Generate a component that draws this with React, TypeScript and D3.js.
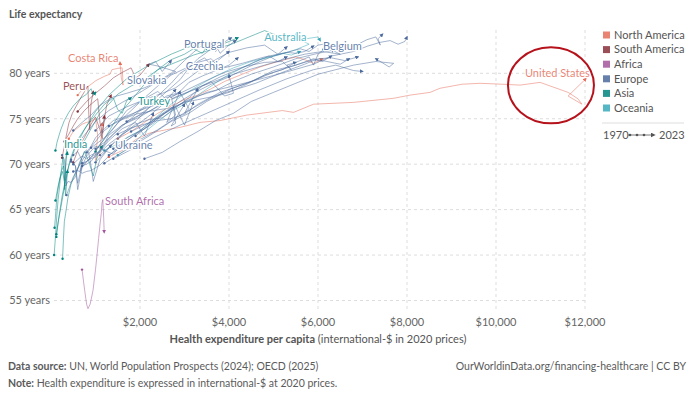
import * as d3 from "d3";

// chart constants
const W = 700;
const H = 394;
const FONT = "Lato, 'Noto Sans', sans-serif";

const REGIONS = ["North America", "South America", "Africa", "Europe", "Asia", "Oceania"];
const REGION_COLORS = ["#E56E5A", "#883039", "#A2559C", "#4C6A9C", "#00847E", "#38AABA"];

const X_TICKS = [2000, 4000, 6000, 8000, 10000, 12000];
const Y_TICKS = [55, 60, 65, 70, 75, 80];

// [health expenditure per capita, life expectancy]
type Pt = [number, number];

const switzerland: Pt[] = [[1900,73.1],[2100,73.9],[2400,75.1],[2700,76.0],[3000,76.9],[3300,77.5],[3700,78.1],[4100,79.1],[4500,79.9],[5000,80.7],[5500,81.6],[6000,82.2],[6500,82.7],[6900,83.2],[7100,83.7],[7300,84.0],[7400,83.1],[7350,83.8],[7450,84.3]];
const norway: Pt[] = [[1300,74.2],[1600,74.9],[1900,75.5],[2300,75.9],[2700,76.2],[3100,77.0],[3500,77.9],[4100,78.6],[4800,79.5],[5400,80.3],[5900,81.0],[6300,81.9],[6800,82.4],[7120,83.0],[7390,83.4],[7620,83.6],[7800,83.2],[7950,83.5],[8000,84.0]];
const germany: Pt[] = [[2100,70.6],[2500,71.3],[2900,72.5],[3300,73.6],[3700,74.8],[4100,75.6],[4500,76.9],[5000,77.9],[5500,78.9],[6000,79.9],[6400,80.4],[6800,80.9],[7300,81.3],[7700,81.1],[7600,80.7],[7300,81.6]];
const netherlands: Pt[] = [[1800,73.6],[2100,74.3],[2400,75.1],[2700,76.1],[3000,76.8],[3300,77.1],[3600,77.4],[4000,78.0],[4600,78.9],[5200,80.1],[5700,81.0],[6000,81.6],[6300,81.7],[6600,81.4],[6900,81.8]];
const austria: Pt[] = [[1200,70.1],[1500,71.0],[1900,72.2],[2300,73.4],[2700,74.7],[3100,75.6],[3500,76.9],[4000,78.2],[4500,79.1],[5000,80.3],[5500,80.9],[5900,81.6],[6200,81.3],[6500,81.0],[6700,81.6]];
const belgium: Pt[] = [[1300,71.0],[1600,71.9],[2000,72.7],[2400,73.8],[2800,75.1],[3200,76.2],[3600,77.3],[4000,77.9],[4400,78.8],[4800,79.8],[5200,80.4],[5500,81.2],[5800,81.8],[5900,80.9],[6000,82.1],[6150,82.7]];
const france: Pt[] = [[1400,71.7],[1700,72.6],[2000,73.6],[2300,74.5],[2600,75.8],[2900,76.9],[3200,77.8],[3600,78.8],[4000,79.6],[4400,80.6],[4700,81.3],[5000,81.9],[5300,82.3],[5500,82.2],[5700,82.4],[5900,83.0]];
const sweden: Pt[] = [[1700,74.7],[1900,75.2],[2200,75.8],[2500,76.6],[2700,77.3],[2900,78.0],[3100,79.0],[3400,79.7],[3800,80.5],[4300,81.1],[4800,81.8],[5300,82.3],[5600,82.7],[5800,82.4],[6000,83.1],[6250,83.3]];
const denmark: Pt[] = [[1500,73.3],[1800,74.0],[2100,74.4],[2400,74.8],[2700,75.0],[3000,75.5],[3300,76.6],[3800,77.9],[4400,78.9],[5000,80.1],[5500,80.9],[5900,81.5],[6100,81.3],[6300,81.9]];
const unitedKingdom: Pt[] = [[1000,71.7],[1200,72.4],[1400,73.3],[1700,74.6],[2000,75.9],[2400,77.0],[2900,77.8],[3400,79.0],[3900,80.1],[4400,80.8],[4800,81.2],[5200,81.3],[5400,80.4],[5300,80.9],[5500,81.2]];
const italy: Pt[] = [[1100,71.0],[1400,72.3],[1700,73.8],[2000,75.2],[2300,76.7],[2600,78.0],[2900,79.3],[3100,80.6],[3300,81.6],[3500,82.3],[3700,83.1],[3800,82.2],[3950,82.9],[4150,83.6]];
const spain: Pt[] = [[600,72.3],[800,73.5],[1000,74.7],[1300,75.9],[1600,76.8],[1900,77.6],[2300,78.8],[2700,80.0],[3000,81.4],[3200,82.3],[3400,83.1],[3600,83.5],[3700,82.4],[3850,83.3],[4050,83.9]];
const portugal: Pt[] = [[350,66.6],[500,68.6],[700,70.4],[950,72.2],[1200,73.7],[1500,74.8],[1800,75.4],[2100,76.3],[2400,77.5],[2700,78.9],[2900,80.0],[3100,80.6],[3300,81.3],[3450,81.7],[3600,80.9],[3800,81.6],[4000,82.4]];
const greece: Pt[] = [[500,73.7],[700,74.6],[900,75.4],[1100,76.5],[1400,77.4],[1700,77.8],[2100,78.4],[2500,79.3],[2800,80.2],[2400,80.8],[2200,81.0],[2350,81.3],[2500,80.2],[2700,81.4]];
const czechia: Pt[] = [[700,69.8],[800,70.0],[900,70.3],[1000,71.0],[1100,71.5],[1300,72.8],[1600,74.3],[2000,75.2],[2400,76.4],[2800,77.4],[3200,78.2],[3600,79.1],[3900,77.5],[4100,77.8],[4000,79.8]];
const slovakia: Pt[] = [[700,70.1],[800,70.3],[900,70.8],[1100,71.3],[1300,72.2],[1600,73.3],[1900,74.2],[2200,75.3],[2500,76.5],[2700,77.4],[2800,75.4],[2600,74.6],[2900,78.0]];
const poland: Pt[] = [[500,70.0],[600,70.5],[700,70.9],[800,70.6],[900,71.0],[1100,71.4],[1300,73.2],[1600,74.3],[1900,75.1],[2200,76.2],[2600,77.5],[2900,77.9],[3100,76.1],[3000,75.6],[3300,78.3]];
const hungary: Pt[] = [[500,69.2],[600,69.3],[700,69.0],[800,69.2],[900,69.3],[1100,69.9],[1400,71.4],[1700,72.6],[2000,73.7],[2300,74.9],[2600,75.9],[2750,76.3],[2800,74.5],[2700,74.2],[3000,76.6]];
const ukraine: Pt[] = [[250,71.0],[300,70.5],[320,69.3],[350,67.8],[330,67.6],[380,68.1],[450,68.0],[550,68.6],[650,70.3],[750,71.3],[800,71.6],[850,71.2],[900,69.8],[950,68.1],[1100,70.5],[1350,72.1]];
const lithuania: Pt[] = [[500,71.0],[600,71.4],[700,70.4],[650,69.2],[800,70.9],[1000,72.0],[1200,71.5],[1400,71.1],[1700,72.9],[2100,73.9],[2500,75.5],[2800,76.3],[3000,74.3],[3200,76.8]];
const estonia: Pt[] = [[450,70.5],[550,69.8],[600,67.9],[700,69.9],[900,70.7],[1100,72.2],[1400,73.9],[1700,75.9],[2100,77.2],[2400,78.0],[2600,77.1],[2800,78.2]];
const latvia: Pt[] = [[450,70.3],[550,69.8],[600,67.2],[700,69.7],[850,70.5],[1000,70.8],[1300,72.6],[1600,73.9],[1900,74.6],[2100,73.1],[2300,75.6]];
const ireland: Pt[] = [[800,71.3],[900,72.0],[1000,72.9],[1200,73.9],[1400,74.8],[1700,75.3],[2100,76.1],[2700,77.1],[3400,78.6],[4100,79.9],[4800,80.9],[5300,81.6],[5700,82.1],[6100,82.4],[6500,82.1],[6300,82.6]];
const finland: Pt[] = [[1000,70.2],[1300,71.8],[1600,73.2],[1900,74.4],[2200,74.9],[2500,75.1],[2800,76.2],[3100,77.3],[3400,78.6],[3800,79.6],[4200,80.4],[4600,81.3],[4900,81.9],[5100,81.3],[5300,81.8]];
const luxembourg: Pt[] = [[1400,70.6],[1800,71.6],[2300,72.9],[2900,74.3],[3500,75.6],[4100,76.9],[4700,78.2],[5300,79.4],[5900,80.4],[6400,80.9],[6800,80.3],[7000,80.2]];
const iceland: Pt[] = [[1000,73.7],[1300,75.3],[1700,76.3],[2100,77.1],[2500,77.8],[2800,78.4],[3100,79.5],[3400,80.6],[3700,81.5],[4000,82.3],[4400,82.8],[4800,83.1],[5100,82.1],[5300,82.9]];
const slovenia: Pt[] = [[900,71.8],[1200,72.9],[1500,74.5],[1800,75.9],[2100,77.3],[2400,78.6],[2700,79.8],[3000,80.5],[3300,81.2],[3600,81.6],[3800,80.5],[4000,80.9],[4200,81.7]];

const japan: Pt[] = [[700,72.1],[900,73.9],[1100,75.6],[1300,76.6],[1500,77.7],[1800,78.6],[2100,79.3],[2400,80.4],[2800,81.2],[3200,82.0],[3600,82.6],[4000,83.1],[4300,83.7],[4600,84.3],[4800,84.7],[5000,84.3],[5300,84.0],[5550,84.2]];
const southKorea: Pt[] = [[120,62.3],[160,63.6],[220,65.2],[300,67.4],[400,69.8],[550,71.9],[750,73.8],[1000,75.8],[1300,77.6],[1700,79.4],[2200,80.9],[2700,82.1],[3100,82.9],[3500,83.4],[3800,83.1],[4200,83.9]];
const israel: Pt[] = [[1000,71.4],[1200,72.8],[1400,74.4],[1600,75.9],[1800,77.0],[2000,78.2],[2200,79.4],[2400,80.4],[2700,81.5],[3000,82.1],[3200,82.7],[3400,82.2],[3500,82.9]];
const turkey: Pt[] = [[120,62.0],[180,64.3],[250,66.5],[350,68.9],[450,70.8],[600,72.7],[800,74.2],[1000,75.4],[1200,76.6],[1400,77.3],[1500,76.0],[1600,75.6],[1700,77.0],[1800,77.3]];
const china: Pt[] = [[100,71.5],[130,72.3],[170,73.0],[220,73.8],[300,74.8],[400,75.7],[500,76.4],[650,77.2],[800,77.7],[900,78.3],[950,77.6],[1000,77.9]];
const india: Pt[] = [[70,60.0],[90,61.3],[110,62.8],[130,64.3],[160,66.1],[190,67.4],[220,68.9],[250,70.0],[270,70.8],[290,69.6],[310,67.2],[330,70.2],[360,72.0]];
const indonesia: Pt[] = [[80,63.0],[100,64.2],[120,65.6],[140,66.7],[170,67.6],[200,68.5],[240,69.3],[280,69.8],[310,68.2],[340,70.6],[370,71.3]];
const kazakhstan: Pt[] = [[260,59.6],[280,61.8],[300,63.7],[330,64.6],[380,66.3],[450,67.8],[550,69.0],[650,70.1],[750,71.4],[850,70.3],[950,68.7],[1050,71.2],[1150,72.0]];
const philippines: Pt[] = [[100,66.0],[130,66.8],[160,67.6],[200,68.4],[260,69.2],[300,68.1],[330,66.5],[370,69.3]];

const peru: Pt[] = [[250,70.7],[300,72.0],[350,73.3],[400,74.5],[480,75.6],[580,76.5],[680,77.4],[780,78.2],[830,78.6],[850,75.5],[870,73.8],[900,76.7],[950,78.0]];
const chile: Pt[] = [[600,75.8],[800,76.9],[1000,77.8],[1200,78.6],[1400,79.5],[1600,80.1],[1800,80.6],[1900,79.5],[2000,79.8],[2200,81.0]];
const colombia: Pt[] = [[300,72.5],[400,73.3],[500,74.2],[600,75.0],[750,75.9],[900,76.6],[1050,77.2],[1100,74.6],[1150,73.4],[1250,76.5],[1350,77.6]];
const brazil: Pt[] = [[500,70.2],[600,71.5],[700,72.5],[800,73.4],[900,74.4],[1000,75.2],[1100,73.8],[1150,72.8],[1200,75.3]];

const unitedStates: Pt[] = [[1300,70.8],[1600,71.5],[1900,72.7],[2200,73.4],[2600,73.8],[2900,74.05],[3350,74.6],[3800,74.8],[4400,75.4],[5200,75.9],[5450,75.7],[5900,76.6],[6800,76.8],[7700,77.25],[8070,77.6],[8520,77.9],[8740,78.35],[9240,78.8],[9640,78.9],[10130,78.8],[10540,78.7],[10990,79.0],[11620,77.9],[11840,77.2],[11930,76.6],[11620,77.5],[12020,79.4]];
const canada: Pt[] = [[1500,72.8],[1800,73.6],[2100,74.6],[2400,75.6],[2700,76.4],[3000,77.1],[3300,77.6],[3600,78.3],[3900,79.1],[4300,79.9],[4700,80.7],[5100,81.3],[5500,81.8],[5700,81.5],[5900,81.1],[6100,81.6]];
const costaRica: Pt[] = [[600,77.6],[700,78.2],[876,78.7],[1011,79.2],[1213,79.7],[1326,79.9],[1370,80.4],[1505,80.55],[1600,80.6],[1620,78.7],[1580,79.5],[1550,81.2]];
const mexico: Pt[] = [[400,72.8],[500,73.6],[600,74.0],[700,74.4],[800,74.6],[900,74.7],[1000,75.0],[1050,73.2],[1000,70.4],[1100,71.2],[1150,74.5]];

const southAfrica: Pt[] = [[697,58.4],[760,56.0],[800,54.6],[831,54.1],[880,54.6],[944,56.1],[1000,58.4],[1034,60.0],[1070,61.8],[1101,63.3],[1130,64.6],[1146,65.7],[1165,66.1],[1185,64.0],[1195,62.5]];

const australia: Pt[] = [[1500,71.0],[1800,72.0],[2100,73.5],[2400,74.7],[2700,75.8],[3000,76.6],[3300,77.6],[3600,78.6],[3900,79.6],[4300,80.6],[4700,81.5],[5100,82.0],[5500,82.6],[5800,83.2],[5600,83.7],[6000,84.0],[6050,83.6]];
const newZealand: Pt[] = [[1200,71.5],[1400,72.0],[1700,72.9],[2000,73.7],[2300,74.9],[2600,76.2],[2900,77.4],[3300,78.6],[3700,79.7],[4100,80.6],[4500,81.3],[4900,81.8],[5200,82.2],[5400,82.0],[5600,82.4]];

// region index per series, drawing order back to front
const SERIES: { name: string; region: number; data: Pt[] }[] = [
  { name: "United States", region: 0, data: unitedStates },
  { name: "Canada", region: 0, data: canada },
  { name: "Mexico", region: 0, data: mexico },
  { name: "Costa Rica", region: 0, data: costaRica },
  { name: "Peru", region: 1, data: peru },
  { name: "Chile", region: 1, data: chile },
  { name: "Colombia", region: 1, data: colombia },
  { name: "Brazil", region: 1, data: brazil },
  { name: "South Africa", region: 2, data: southAfrica },
  { name: "Japan", region: 4, data: japan },
  { name: "South Korea", region: 4, data: southKorea },
  { name: "Israel", region: 4, data: israel },
  { name: "Turkey", region: 4, data: turkey },
  { name: "China", region: 4, data: china },
  { name: "India", region: 4, data: india },
  { name: "Indonesia", region: 4, data: indonesia },
  { name: "Kazakhstan", region: 4, data: kazakhstan },
  { name: "Philippines", region: 4, data: philippines },
  { name: "Australia", region: 5, data: australia },
  { name: "New Zealand", region: 5, data: newZealand },
  { name: "Switzerland", region: 3, data: switzerland },
  { name: "Norway", region: 3, data: norway },
  { name: "Germany", region: 3, data: germany },
  { name: "Netherlands", region: 3, data: netherlands },
  { name: "Austria", region: 3, data: austria },
  { name: "Belgium", region: 3, data: belgium },
  { name: "France", region: 3, data: france },
  { name: "Sweden", region: 3, data: sweden },
  { name: "Denmark", region: 3, data: denmark },
  { name: "United Kingdom", region: 3, data: unitedKingdom },
  { name: "Italy", region: 3, data: italy },
  { name: "Spain", region: 3, data: spain },
  { name: "Portugal", region: 3, data: portugal },
  { name: "Greece", region: 3, data: greece },
  { name: "Czechia", region: 3, data: czechia },
  { name: "Slovakia", region: 3, data: slovakia },
  { name: "Poland", region: 3, data: poland },
  { name: "Hungary", region: 3, data: hungary },
  { name: "Ukraine", region: 3, data: ukraine },
  { name: "Lithuania", region: 3, data: lithuania },
  { name: "Estonia", region: 3, data: estonia },
  { name: "Latvia", region: 3, data: latvia },
  { name: "Ireland", region: 3, data: ireland },
  { name: "Finland", region: 3, data: finland },
  { name: "Luxembourg", region: 3, data: luxembourg },
  { name: "Iceland", region: 3, data: iceland },
  { name: "Slovenia", region: 3, data: slovenia },
];

// label anchors (left edge of text) in data units
const LABELS: { name: string; region: number; at: Pt }[] = [
  { name: "Costa Rica", region: 0, at: [380, 81.65] },
  { name: "Peru", region: 1, at: [270, 78.57] },
  { name: "Slovakia", region: 3, at: [1710, 79.2] },
  { name: "Czechia", region: 3, at: [3030, 80.8] },
  { name: "Portugal", region: 3, at: [2990, 83.2] },
  { name: "Australia", region: 5, at: [4790, 83.97] },
  { name: "Belgium", region: 3, at: [6110, 82.97] },
  { name: "Turkey", region: 4, at: [1955, 76.9] },
  { name: "India", region: 4, at: [290, 72.2] },
  { name: "Ukraine", region: 3, at: [1440, 72.07] },
  { name: "South Africa", region: 2, at: [1215, 65.9] },
  { name: "United States", region: 0, at: [10650, 80.0] },
];

// red highlight ring centre (data units)
const HIGHLIGHT: Pt = [11235, 78.68];

export default function App() {
  const x = d3.scaleLinear().domain([0, 12000]).range([51, 585]);
  const y = d3.scaleLinear().domain([55, 80]).range([300.5, 73.3]);
  const line = d3.line<Pt>().x((d) => x(d[0])).y((d) => y(d[1]));
  const fmt = d3.format("$,");

  const legendY = d3.scalePoint<string>().domain(REGIONS).range([35, 108]);

  return (
    <svg width={W} height={H} style={{ position: "absolute", left: 0, top: 0, background: "#fff" }} fontFamily={FONT}>
      <defs>
        {REGION_COLORS.map((c, i) => (
          <marker key={i} id={`arr${i}`} viewBox="0 0 6 6" refX="4" refY="3" markerWidth="4" markerHeight="4"
            markerUnits="userSpaceOnUse" orient="auto">
            <path d="M0,0L6,3L0,6z" fill={c} />
          </marker>
        ))}
        <marker id="arrLegend" viewBox="0 0 6 6" refX="4" refY="3" markerWidth="5" markerHeight="5"
          markerUnits="userSpaceOnUse" orient="auto">
          <path d="M0,0L6,3L0,6z" fill="#555" />
        </marker>
      </defs>

      <text x={9} y={18} fontSize={10.5} fontWeight="bold" fill="#555">Life expectancy</text>

      {/* grid */}
      <g stroke="#ddd" strokeDasharray="3,3" strokeWidth={1}>
        {Y_TICKS.map((t) => (
          <line key={t} x1={54} x2={585} y1={y(t)} y2={y(t)} />
        ))}
        {X_TICKS.map((t) => (
          <line key={t} x1={x(t)} x2={x(t)} y1={30} y2={311} />
        ))}
      </g>
      <g fontSize={11} fill="#666" textAnchor="end">
        {Y_TICKS.map((t) => (
          <text key={t} x={50} y={y(t)} dy="0.35em">{t} years</text>
        ))}
      </g>
      <g fontSize={11} fill="#666" textAnchor="middle">
        {X_TICKS.map((t) => (
          <text key={t} x={x(t)} y={326}>{fmt(t)}</text>
        ))}
      </g>
      <text x={318} y={343} fontSize={11} fill="#555" textAnchor="middle">
        <tspan fontWeight="bold">Health expenditure per capita</tspan> (international-$ in 2020 prices)
      </text>

      {/* series */}
      <g fill="none" strokeWidth={0.75} strokeLinejoin="round">
        {SERIES.map((s) => (
          <g key={s.name}>
            <path d={line(s.data) || ""} stroke={REGION_COLORS[s.region]} strokeOpacity={0.68}
              markerEnd={`url(#arr${s.region})`} />
            <circle cx={x(s.data[0][0])} cy={y(s.data[0][1])} r={1.2} fill={REGION_COLORS[s.region]} />
          </g>
        ))}
      </g>

      {/* labels */}
      <g fontSize={11} stroke="#fff" strokeWidth={2.5} strokeLinejoin="round" style={{ paintOrder: "stroke" }}>
        {LABELS.map((l) => (
          <text key={l.name} x={x(l.at[0])} y={y(l.at[1])} dy="0.35em" fill={REGION_COLORS[l.region]}
            fillOpacity={0.85}>{l.name}</text>
        ))}
      </g>

      <ellipse cx={x(HIGHLIGHT[0])} cy={y(HIGHLIGHT[1])} rx={43} ry={38} fill="none" stroke="#B5121B" strokeWidth={2} />

      {/* legend */}
      <g fontSize={11} fill="#555">
        {REGIONS.map((r, i) => (
          <g key={r} transform={`translate(603,${legendY(r)})`}>
            <rect x={0} y={-3.5} width={7} height={7} fill={REGION_COLORS[i]} fillOpacity={0.85} />
            <text x={11} y={0} dy="0.35em">{r}</text>
          </g>
        ))}
        <line x1={602} x2={684} y1={123} y2={123} stroke="#ddd" />
        <text x={603} y={135} dy="0.35em">1970</text>
        <line x1={628} x2={654} y1={135} y2={135} stroke="#555" strokeWidth={0.8} markerEnd="url(#arrLegend)" />
        {[630, 637, 644].map((cx) => (
          <circle key={cx} cx={cx} cy={135} r={1.3} fill="#555" />
        ))}
        <text x={659} y={135} dy="0.35em">2023</text>
      </g>

      {/* footer */}
      <g fontSize={10.5} fill="#5b5b5b">
        <text x={8} y={370}><tspan fontWeight="bold">Data source:</tspan> UN, World Population Prospects (2024); OECD (2025)</text>
        <text x={8} y={387}><tspan fontWeight="bold">Note:</tspan> Health expenditure is expressed in international-$ at 2020 prices.</text>
        <text x={686} y={370} textAnchor="end">OurWorldinData.org/financing-healthcare | CC BY</text>
      </g>
    </svg>
  );
}
